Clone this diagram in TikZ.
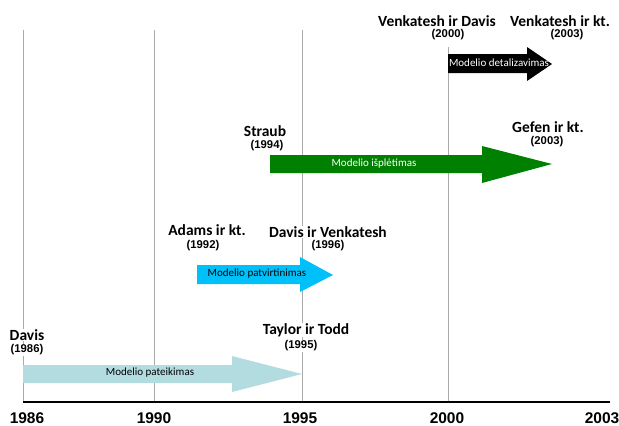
\documentclass[tikz,border=0pt]{standalone}
\usepackage{fontspec}
\setmainfont{Carlito}
\newfontfamily\arialfont{Liberation Sans}
\begin{document}
\begin{tikzpicture}[x=1pt,y=-1pt,
  grid/.style={draw=gridgray, line width=1pt},
  author/.style={fill=white, inner sep=0.8pt, font=\fontsize{15.5}{16}\selectfont\bfseries},
  yearlbl/.style={fill=white, inner sep=0.8pt, font=\arialfont\fontsize{11.3}{12}\selectfont\bfseries},
  ticklbl/.style={inner sep=0pt, font=\arialfont\fontsize{15.5}{16}\selectfont\bfseries},
  arrtext/.style={inner sep=0pt, font=\fontsize{11}{12}\selectfont}]
\useasboundingbox (0,0) rectangle (619,426);
\definecolor{paleblue}{RGB}{178,220,224}
\definecolor{skyblue}{RGB}{0,192,250}
\definecolor{darkgreen}{RGB}{0,128,0}
\definecolor{gridgray}{RGB}{170,170,170}
% grid lines
\draw[grid] (23,30) -- (23,402);
\draw[grid] (154,30) -- (154,402);
\draw[grid] (302,30) -- (302,402);
\draw[grid] (448,47) -- (448,402);
% axis
\draw[line width=2.5pt] (23,402) -- (610,402);
\node[ticklbl] (t1986) at (27,418) {1986};
\node[ticklbl] (t1990) at (154,418) {1990};
\node[ticklbl] (t1995) at (300,418) {1995};
\node[ticklbl] (t2000) at (447,418) {2000};
\node[ticklbl] (t2003) at (602,418) {2003};
% arrows
\fill[paleblue] (23,365) -- (232,365) -- (232,356) -- (302,374) -- (232,392) -- (232,383) -- (23,383) -- cycle;
\node[arrtext] (a1) at (150,373) {Modelio pateikimas};
\fill[skyblue] (197,265) -- (300,265) -- (300,257) -- (333,275) -- (300,292) -- (300,284) -- (197,284) -- cycle;
\node[arrtext] (a2) at (257,274) {Modelio patvirtinimas};
\fill[darkgreen] (270,155) -- (482,155) -- (482,146) -- (552,164) -- (482,183) -- (482,173) -- (270,173) -- cycle;
\node[arrtext, text=white] (a3) at (374,164) {Modelio išplėtimas};
\fill[black] (448,54) -- (527,54) -- (527,47) -- (552,64) -- (527,81) -- (527,73) -- (448,73) -- cycle;
\node[arrtext, text=white] (a4) at (499,63) {Modelio detalizavimas};
% labels
\node[author] (davis) at (27,335) {Davis};
\node[yearlbl] (y1986) at (27,350) {(1986)};
\node[author] (taylor) at (306,330) {Taylor ir Todd};
\node[yearlbl] (y1995) at (301,346) {(1995)};
\node[author] (adams) at (207,230) {Adams ir kt.};
\node[yearlbl] (y1992) at (203,246) {(1992)};
\node[author] (davisv) at (328,232) {Davis ir Venkatesh};
\node[yearlbl] (y1996) at (328,246) {(1996)};
\node[author] (straub) at (265,131) {Straub};
\node[yearlbl] (y1994) at (267,146) {(1994)};
\node[author] (gefen) at (548,127) {Gefen ir kt.};
\node[yearlbl] (y2003g) at (547,142) {(2003)};
\node[author] (vd) at (437,21) {Venkatesh ir Davis};
\node[yearlbl] (y2000) at (448,35) {(2000)};
\node[author] (vk) at (560,21) {Venkatesh ir kt.};
\node[yearlbl] (y2003v) at (567,35) {(2003)};
\end{tikzpicture}
\end{document}
